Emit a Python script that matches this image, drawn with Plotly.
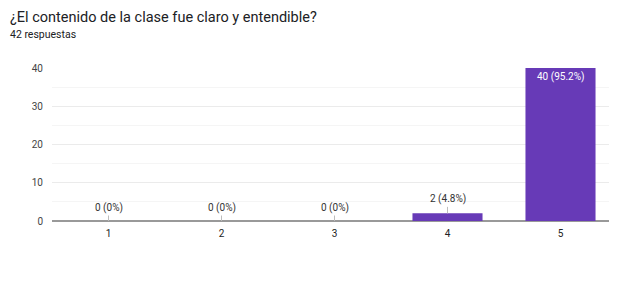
import plotly.graph_objects as go

categories = ["1", "2", "3", "4", "5"]
counts = [0, 0, 0, 2, 40]
percent_labels = ["0%", "0%", "0%", "4.8%", "95.2%"]
title_text = "¿El contenido de la clase fue claro y entendible?"
subtitle_text = "42 respuestas"
y_ticks = [0, 10, 20, 30, 40]

FONT = "Roboto, Arial, sans-serif"
PURPLE = "#673ab7"

# page body has an 8px default margin: size the figure to fit the window
W, H = 609, 276
L, R, T, B = 44, 0, 60, 63
plot_h = H - T - B

xs = list(range(len(categories)))

fig = go.Figure()
fig.add_trace(go.Bar(
    x=xs, y=counts,
    marker=dict(color=PURPLE, line=dict(width=0)),
    width=0.62,
    hoverinfo="skip",
))

ymax = max(y_ticks)
for xi, v, p in zip(xs, counts, percent_labels):
    label = f"{v} ({p})"
    if v >= ymax * 0.5:
        fig.add_annotation(x=xi, y=v, text=label, showarrow=False,
                           yanchor="top", yshift=-1,
                           font=dict(family=FONT, size=10, color="white"))
    else:
        fig.add_annotation(x=xi, y=v, text=label, showarrow=True,
                           arrowhead=0, arrowwidth=1, arrowcolor="#bdbdbd",
                           ax=0, ay=-14 if v > 0 else -13,
                           font=dict(family=FONT, size=10, color="#333333"))

fig.add_annotation(xref="paper", yref="paper", x=-L / (W - L - R), y=1 + (T - 9) / plot_h,
                   xanchor="left", yanchor="middle", showarrow=False,
                   text=title_text, font=dict(family=FONT, size=14.5, color="#202124"))
fig.add_annotation(xref="paper", yref="paper", x=-L / (W - L - R), y=1 + (T - 27) / plot_h,
                   xanchor="left", yanchor="middle", showarrow=False,
                   text=subtitle_text, font=dict(family=FONT, size=10.5, color="#202124"))

fig.update_layout(
    width=W, height=H,
    margin=dict(l=L, r=R, t=T, b=B),
    paper_bgcolor="white", plot_bgcolor="white",
    showlegend=False,
    font=dict(family=FONT, size=10, color="#444444"),
    xaxis=dict(range=[-0.5, len(categories) - 0.5], tickvals=xs, ticktext=categories,
               showgrid=False, ticks="", showline=False, zeroline=False,
               ticklabelstandoff=5,
               tickfont=dict(size=10, color="#222222")),
    yaxis=dict(range=[0, ymax], tickvals=y_ticks, showgrid=True,
               gridcolor="#ebebeb", gridwidth=1, zeroline=True,
               zerolinecolor="#999999", zerolinewidth=1.5,
               ticks="", ticklabelstandoff=8,
               tickfont=dict(size=10, color="#444444"),
               minor=dict(dtick=5, showgrid=True, gridcolor="#f5f5f5")),
)

fig.write_html("out.html")
